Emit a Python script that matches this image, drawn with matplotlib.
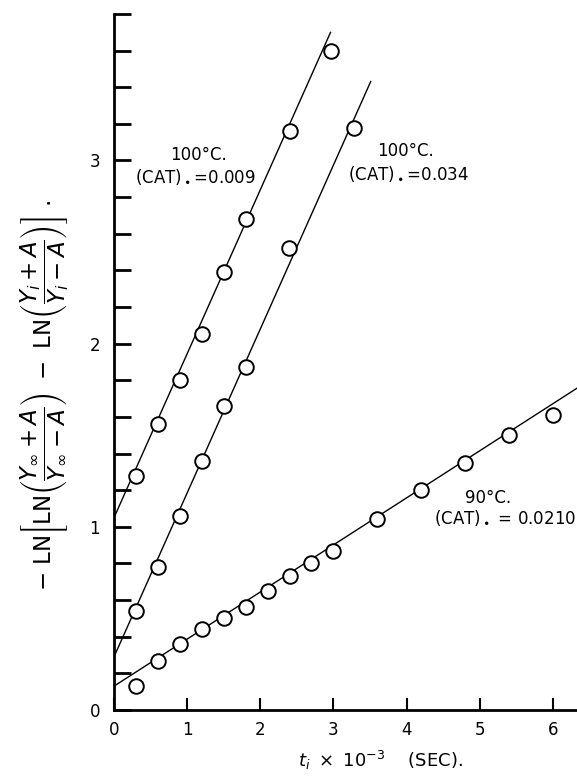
import numpy as np
import matplotlib
matplotlib.use("Agg")
import matplotlib.pyplot as plt

# 100 C, (CAT)o = 0.009
t1 = [0.3, 0.6, 0.9, 1.2, 1.5, 1.8, 2.4, 2.97]
y1 = [1.28, 1.56, 1.80, 2.05, 2.39, 2.68, 3.16, 3.60]
# 100 C, (CAT)o = 0.034
t2 = [0.3, 0.6, 0.9, 1.2, 1.5, 1.8, 2.39, 3.28]
y2 = [0.54, 0.78, 1.06, 1.36, 1.66, 1.87, 2.52, 3.18]
# 90 C, (CAT)o = 0.0210
t3 = [0.3, 0.6, 0.9, 1.2, 1.5, 1.8, 2.1, 2.4, 2.7, 3.0, 3.6, 4.2, 4.8, 5.4, 6.0]
y3 = [0.13, 0.27, 0.36, 0.44, 0.50, 0.56, 0.65, 0.73, 0.80, 0.87, 1.04, 1.20, 1.35, 1.50, 1.61]

# fitted lines: intercept, slope, end of line
fit_b = [1.05, 0.29, 0.13]
fit_m = [0.895, 0.895, 0.257]
fit_end = [2.96, 3.51, 6.33]

fig = plt.figure(figsize=(5.77, 7.76), dpi=100)
ax = fig.add_axes([0.1976, 0.0851, 0.8024, 0.8969])

for t, y, b, m, e in zip([t1, t2, t3], [y1, y2, y3], fit_b, fit_m, fit_end):
    xx = np.array([0.0, e])
    ax.plot(xx, b + m * xx, color="black", lw=1.0, zorder=2)
    ax.plot(t, y, "o", ms=10.5, mfc="white", mec="black", mew=1.4, zorder=3)

ax.set_xlim(0, 6.33)
ax.set_ylim(0, 3.8)
ax.spines["top"].set_visible(False)
ax.spines["right"].set_visible(False)
ax.spines["left"].set_linewidth(2)
ax.spines["bottom"].set_linewidth(2)

ax.set_xticks([0, 1, 2, 3, 4, 5, 6])
ax.set_yticks([0, 1, 2, 3])
ax.set_yticks(np.arange(0, 3.81, 0.2), minor=True)
ax.tick_params(axis="y", which="both", direction="in", length=12, width=2, labelsize=12, pad=10)
ax.tick_params(axis="x", direction="in", length=9, width=1.5, labelsize=12, pad=8)

ax.text(1.15, 3.03, "100°C.", fontsize=12, ha="center", va="center")
ax.text(1.12, 2.91, r"(CAT)$_\bullet$=0.009", fontsize=12, ha="center", va="center")
ax.text(3.98, 3.05, "100°C.", fontsize=12, ha="center", va="center")
ax.text(4.03, 2.93, r"(CAT)$_\bullet$=0.034", fontsize=12, ha="center", va="center")
ax.text(5.11, 1.16, "90°C.", fontsize=12, ha="center", va="center")
ax.text(5.34, 1.05, r"(CAT)$_\bullet$ = 0.0210", fontsize=12, ha="center", va="center")

fig.text(0.66, 0.012, r"$t_i\ \times\ 10^{-3}$    (SEC).", fontsize=13, ha="center")
ylab = (r"$-\ \mathrm{LN}\left[\mathrm{LN}\left(\dfrac{Y_\infty+A}{Y_\infty-A}\right)"
        r"\ -\ \mathrm{LN}\left(\dfrac{Y_i+A}{Y_i-A}\right)\right]$ .")
fig.text(0.078, 0.49, ylab, fontsize=16.5, rotation=90, ha="center", va="center")

fig.savefig("out.png", dpi=100)
